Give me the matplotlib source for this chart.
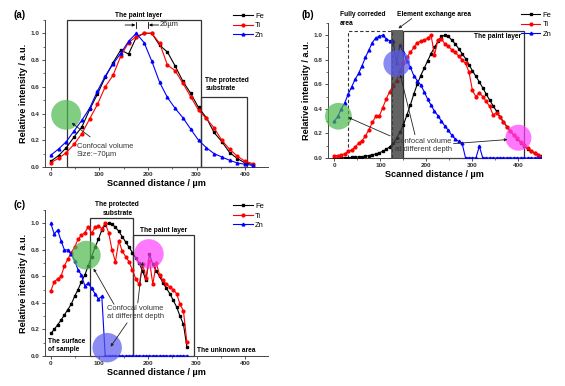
import numpy as np
import matplotlib
matplotlib.use("Agg")
import matplotlib.pyplot as plt
from matplotlib.patches import Rectangle
from matplotlib.ticker import MultipleLocator

plt.rcParams['font.family'] = ['Liberation Sans', 'DejaVu Sans']

# ---------------- data ----------------
x_a = np.arange(0, 417, 16)
fe_a = [0.043, 0.085, 0.145, 0.225, 0.30, 0.43, 0.545, 0.67, 0.78, 0.875, 0.845, 0.97, 1.0, 1.0,
        0.91, 0.86, 0.755, 0.64, 0.55, 0.445, 0.37, 0.258, 0.19, 0.108, 0.063, 0.03, 0.018]
ti_a = [0.033, 0.065, 0.108, 0.17, 0.25, 0.36, 0.468, 0.60, 0.685, 0.83, 0.93, 0.975, 1.0, 1.0,
        0.925, 0.763, 0.72, 0.625, 0.525, 0.425, 0.363, 0.293, 0.20, 0.133, 0.08, 0.043, 0.025]
zn_a = [0.088, 0.135, 0.19, 0.27, 0.35, 0.44, 0.568, 0.68, 0.77, 0.85, 0.94, 1.0, 0.93, 0.79,
        0.633, 0.52, 0.438, 0.368, 0.283, 0.20, 0.145, 0.10, 0.075, 0.05, 0.03, 0.02, 0.012]

x_b = np.arange(0, 451, 7.5)
fe_b = [0.0, 0.0, 0.0, 0.002, 0.003, 0.004, 0.006, 0.008, 0.011, 0.015, 0.02, 0.026, 0.033, 0.042,
        0.055, 0.07, 0.09, 0.12, 0.16, 0.21, 0.27, 0.35, 0.43, 0.52, 0.60, 0.67, 0.73, 0.79, 0.85,
        0.90, 0.95, 0.99, 1.0, 0.99, 0.96, 0.93, 0.89, 0.85, 0.81, 0.76, 0.71, 0.665, 0.62, 0.57,
        0.52, 0.47, 0.425, 0.38, 0.335, 0.295, 0.255, 0.22, 0.185, 0.155, 0.125, 0.10, 0.075,
        0.055, 0.04, 0.025, 0.015]
ti_b = [0.02, 0.02, 0.025, 0.035, 0.055, 0.065, 0.09, 0.12, 0.14, 0.18, 0.23, 0.29, 0.34, 0.34,
        0.41, 0.48, 0.54, 0.59, 0.63, 0.71, 0.77, 0.82, 0.86, 0.90, 0.94, 0.95, 0.96, 0.975, 1.0,
        0.84, 0.96, 0.97, 0.93, 0.91, 0.88, 0.86, 0.83, 0.80, 0.77, 0.70, 0.55, 0.50, 0.53, 0.50,
        0.46, 0.42, 0.35, 0.37, 0.33, 0.29, 0.255, 0.22, 0.19, 0.16, 0.13, 0.105, 0.08, 0.06,
        0.04, 0.025, 0.012]
zn_b = [0.30, 0.34, 0.40, 0.45, 0.52, 0.58, 0.64, 0.69, 0.75, 0.82, 0.88, 0.94, 0.98, 0.99, 1.0,
        0.97, 0.955, 0.955, 0.77, 0.92, 0.86, 0.79, 0.74, 0.67, 0.63, 0.595, 0.54, 0.48, 0.43,
        0.38, 0.345, 0.30, 0.26, 0.225, 0.185, 0.155, 0.135, 0.12, 0.0, 0.0, 0.0, 0.0, 0.095, 0.0,
        0.0, 0.0, 0.0, 0.0, 0.0, 0.0, 0.0, 0.0, 0.0, 0.0, 0.0, 0.0, 0.0, 0.0, 0.0, 0.0, 0.0]

x_c = np.arange(0, 281, 7)
fe_c = [0.17, 0.20, 0.235, 0.27, 0.31, 0.35, 0.39, 0.45, 0.50, 0.56, 0.61, 0.68, 0.75, 0.82, 0.88,
        0.95, 0.99, 1.0, 0.995, 0.97, 0.94, 0.90, 0.86, 0.82, 0.78, 0.74, 0.70, 0.64, 0.57, 0.77,
        0.69, 0.64, 0.60, 0.55, 0.51, 0.47, 0.42, 0.37, 0.30, 0.24, 0.07]
ti_c = [0.49, 0.56, 0.58, 0.60, 0.68, 0.73, 0.78, 0.82, 0.88, 0.91, 0.93, 0.975, 0.925, 0.97, 0.98,
        0.96, 1.0, 0.93, 0.80, 0.71, 0.87, 0.79, 0.75, 0.71, 0.65, 0.58, 0.54, 0.69, 0.59, 0.72,
        0.54, 0.70, 0.61, 0.57, 0.54, 0.52, 0.50, 0.47, 0.39, 0.34, 0.105]
zn_c = [1.0, 0.92, 0.95, 0.87, 0.80, 0.80, 0.77, 0.72, 0.65, 0.61, 0.53, 0.55, 0.51, 0.47, 0.43,
        0.45] + [0.0] * 25

elements = ['Fe', 'Ti', 'Zn']
colors = {'Fe': 'black', 'Ti': '#ff0000', 'Zn': '#0000ff'}
markers = {'Fe': 's', 'Ti': 'o', 'Zn': '^'}
xticks = [0, 100, 200, 300, 400]
yticks = [0.0, 0.2, 0.4, 0.6, 0.8, 1.0]

# ---------------- figure ----------------
fig = plt.figure(figsize=(5.65, 3.86), dpi=100)
ax_a = fig.add_axes([0.0796, 0.5674, 0.3947, 0.381])
ax_b = fig.add_axes([0.5805, 0.5907, 0.377, 0.35])
ax_c = fig.add_axes([0.0796, 0.0777, 0.3947, 0.378])

FS_TICK = 4.6
FS_LAB = 6.6
FS_ANN = 4.8
FS_CONF = 5.4
BOX = '#333333'


def style(ax, xlim):
    ax.set_xlim(*xlim)
    ax.set_ylim(0, 1.1)
    for s in ['top', 'right']:
        ax.spines[s].set_visible(False)
    for s in ['left', 'bottom']:
        ax.spines[s].set_linewidth(0.7)
        ax.spines[s].set_color('#444444')
    ax.set_xticks(xticks)
    ax.set_yticks(yticks)
    ax.set_xticklabels([str(t) for t in xticks], fontsize=FS_TICK, fontweight='bold')
    ax.set_yticklabels(['%.1f' % t for t in yticks], fontsize=FS_TICK, fontweight='bold')
    ax.xaxis.set_minor_locator(MultipleLocator(50))
    ax.yaxis.set_minor_locator(MultipleLocator(0.1))
    ax.tick_params(which='major', direction='out', length=2.2, width=0.6, pad=1.5, colors='#333333')
    ax.tick_params(which='minor', direction='out', length=1.2, width=0.5, colors='#333333')
    ax.set_xlabel('Scanned distance / µm', fontsize=FS_LAB, fontweight='bold', labelpad=1)
    ax.set_ylabel('Relative intensity / a.u.', fontsize=FS_LAB, fontweight='bold', labelpad=2)


def plot_series(ax, x, data):
    for el, y in zip(elements, data):
        ax.plot(x, y, color=colors[el], marker=markers[el], ms=2.0, lw=0.8, label=el, zorder=3)


def legend(ax, anchor):
    ax.legend(loc='upper left', bbox_to_anchor=anchor, frameon=False, fontsize=5.4,
              handlelength=2.6, handletextpad=0.3, labelspacing=0.3, borderpad=0,
              borderaxespad=0)


def circle(ax, x, y, color, s, alpha=0.7):
    ax.scatter([x], [y], s=s, color=color, alpha=alpha, edgecolors='none', zorder=5, clip_on=False)


def rect(ax, x0, x1, y1, **kw):
    style_kw = dict(fill=False, edgecolor=BOX, lw=0.9, zorder=2, clip_on=False)
    style_kw.update(kw)
    ax.add_patch(Rectangle((x0, 0), x1 - x0, y1, **style_kw))


def pointer(ax, xy, xytext):
    ax.annotate('', xy=xy, xytext=xytext,
                arrowprops=dict(arrowstyle='-|>', color='#222222', lw=0.6,
                                mutation_scale=4, shrinkA=0, shrinkB=0), zorder=6)


# ---------------- (a) ----------------
ax = ax_a
style(ax, (-12, 447))
plot_series(ax, x_a, [fe_a, ti_a, zn_a])
rect(ax, 33, 309, 1.1)
rect(ax, 309, 403, 0.52)
ax.text(180, 1.135, 'The paint layer', fontsize=FS_ANN, fontweight='bold', ha='center', va='center')
ax.text(318, 0.56, 'The protected\nsubstrate', fontsize=FS_ANN, fontweight='bold', ha='left',
        va='bottom', linespacing=1.3)
ax.annotate('', xy=(174, 1.062), xytext=(153, 1.062),
            arrowprops=dict(arrowstyle='-|>', color='black', lw=0.6, mutation_scale=4, shrinkA=0, shrinkB=0))
ax.annotate('', xy=(202, 1.062), xytext=(222, 1.062),
            arrowprops=dict(arrowstyle='-|>', color='black', lw=0.6, mutation_scale=4, shrinkA=0, shrinkB=0))
ax.plot([176, 176], [1.037, 1.087], color='black', lw=0.6, clip_on=False)
ax.plot([200, 200], [1.037, 1.087], color='black', lw=0.6, clip_on=False)
ax.text(224, 1.062, '26µm', fontsize=FS_CONF, ha='left', va='center', color='#222222')
circle(ax, 31.5, 0.39, '#4cb84c', 460)
ax.text(53, 0.12, 'Confocal volume\nSize:~70µm', fontsize=FS_CONF, ha='left', va='center',
        color='#333333', linespacing=1.2)
pointer(ax, (43, 0.33), (81, 0.225))
legend(ax, (0.845, 1.05))
ax.text(-0.143, 1.034, '(a)', transform=ax.transAxes, fontsize=7, fontweight='bold', va='center')

# ---------------- (b) ----------------
ax = ax_b
style(ax, (-14, 449))
plot_series(ax, x_b, [fe_b, ti_b, zn_b])
ax.add_patch(Rectangle((123, 0), 27, 1.045, facecolor='#3c3c3c', edgecolor='none', alpha=0.8,
                       zorder=4, clip_on=False))
rect(ax, 30, 125, 1.035, linestyle=(0, (3, 2)), lw=0.8)
rect(ax, 150, 411, 1.035)
ax.text(405, 0.99, 'The paint layer', fontsize=FS_ANN, fontweight='bold', ha='right', va='center')
ax.text(12, 1.13, 'Fully correded\narea', fontsize=FS_ANN, fontweight='bold', ha='left',
        va='center', linespacing=1.3)
ax.text(135, 1.17, 'Element exchange area', fontsize=FS_ANN, fontweight='bold', ha='left', va='center')
pointer(ax, (139, 1.055), (168, 1.135))
circle(ax, 8.7, 0.34, '#4cb84c', 370)
circle(ax, 135.5, 0.77, '#5a5af0', 370)
circle(ax, 400, 0.165, '#ff40ff', 350)
ax.text(132, 0.10, 'Confocal volume\nat different depth', fontsize=FS_CONF, ha='left', va='center',
        color='#333333', linespacing=1.2, zorder=6)
pointer(ax, (30, 0.33), (121, 0.18))
pointer(ax, (143, 0.68), (175, 0.19))
pointer(ax, (376, 0.15), (259, 0.117))
legend(ax, (0.905, 1.085))
ax.text(-0.122, 1.06, '(b)', transform=ax.transAxes, fontsize=7, fontweight='bold', va='center')

# ---------------- (c) ----------------
ax = ax_c
style(ax, (-12, 447))
plot_series(ax, x_c, [fe_c, ti_c, zn_c])
rect(ax, 81, 169, 1.04)
rect(ax, 169, 294, 0.91)
ax.text(137, 1.11, 'The protected\nsubstrate', fontsize=FS_ANN, fontweight='bold', ha='center',
        va='center', linespacing=1.3)
ax.text(233, 0.945, 'The paint layer', fontsize=FS_ANN, fontweight='bold', ha='center', va='center')
ax.text(-5, 0.08, 'The surface\nof sample', fontsize=FS_ANN, fontweight='bold', ha='left',
        va='center', linespacing=1.3, zorder=6)
ax.text(300, 0.043, 'The unknown area', fontsize=FS_ANN, fontweight='bold', ha='left', va='center')
circle(ax, 73, 0.76, '#4cb84c', 430)
circle(ax, 202, 0.77, '#ff40ff', 450)
circle(ax, 116, 0.063, '#5a5af0', 450)
ax.text(116, 0.325, 'Confocal volume\nat different depth', fontsize=FS_CONF, ha='left', va='center',
        color='#333333', linespacing=1.2, zorder=6)
pointer(ax, (88, 0.66), (130, 0.39))
pointer(ax, (189, 0.71), (179, 0.40))
pointer(ax, (123, 0.07), (157, 0.25))
legend(ax, (0.845, 1.05))
ax.text(-0.143, 1.034, '(c)', transform=ax.transAxes, fontsize=7, fontweight='bold', va='center')

fig.savefig('out.png', dpi=100)
